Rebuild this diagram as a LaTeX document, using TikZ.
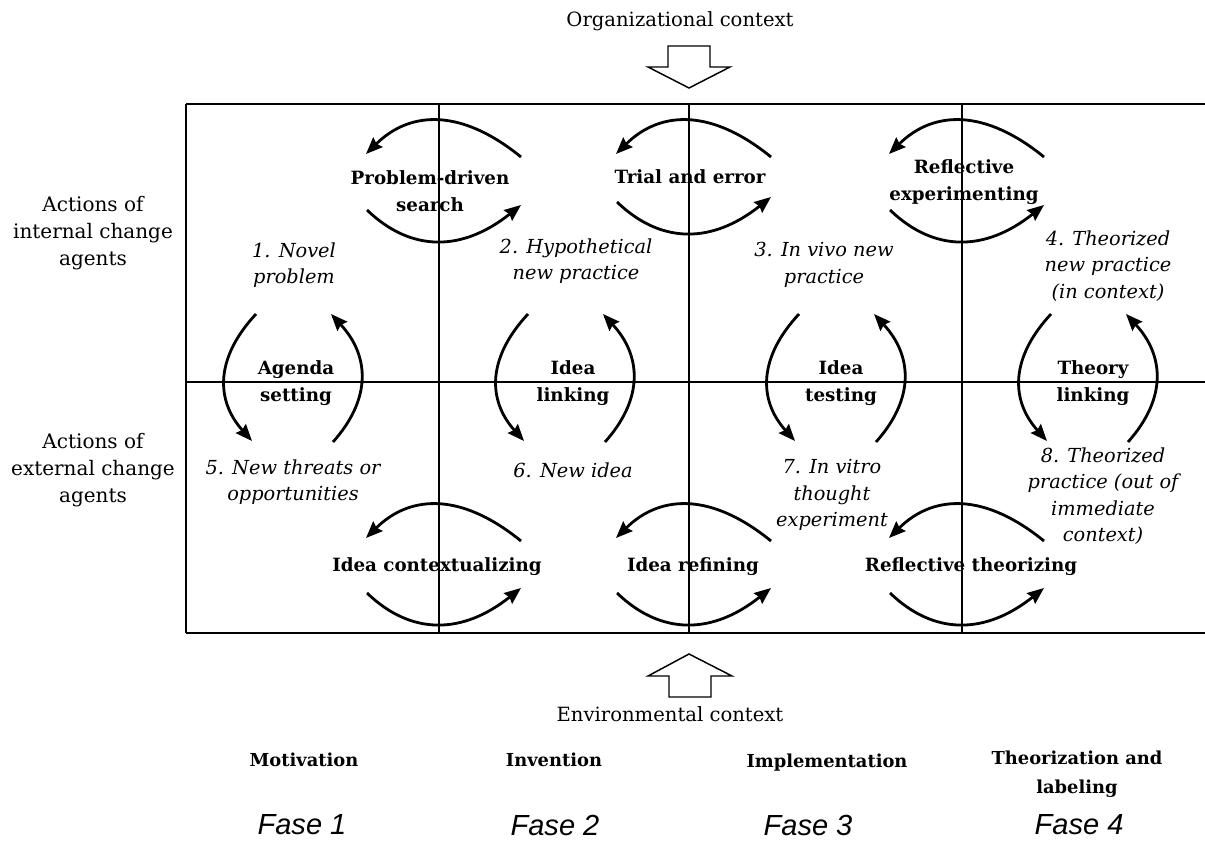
\documentclass[tikz,border=0pt]{standalone}
\usepackage{fontspec}
\setmainfont{DejaVu Serif}
\newfontfamily\fasefont{Liberation Sans}
\usetikzlibrary{arrows.meta,calc}

% one curved arrow through three points: start, extreme point, tip
\newcommand{\loopcurve}[3]{%
  \coordinate (ctl) at ($2*(#2)-0.5*(#1)-0.5*(#3)$);
  \draw[cyclearrow] (#1) .. controls ($(#1)!2/3!(ctl)$) and ($(#3)!2/3!(ctl)$) .. (#3);}

% pair of arcs above and below a horizontal label: name, centre x, top y, bottom y
\newcommand{\hloop}[4]{%
  \coordinate (#1-ua) at (#2+82,#3+36);
  \coordinate (#1-um) at (#2,#3);
  \coordinate (#1-ub) at (#2-73,#3+33);
  \coordinate (#1-la) at (#2-72,#4-31);
  \coordinate (#1-lm) at (#2,#4);
  \coordinate (#1-lb) at (#2+82,#4-36);
  \loopcurve{#1-ua}{#1-um}{#1-ub}
  \loopcurve{#1-la}{#1-lm}{#1-lb}}

% pair of arcs left and right of a label: name, centre x
\newcommand{\vloop}[2]{%
  \coordinate (#1-la) at (#2-37,314);
  \coordinate (#1-lm) at (#2-68,378);
  \coordinate (#1-lb) at (#2-41,441);
  \coordinate (#1-ra) at (#2+40,442);
  \coordinate (#1-rm) at (#2+68,378);
  \coordinate (#1-rb) at (#2+38,314);
  \loopcurve{#1-la}{#1-lm}{#1-lb}
  \loopcurve{#1-ra}{#1-rm}{#1-rb}}

\begin{document}
\begin{tikzpicture}[x=0.75pt,y=-0.75pt,
  gridline/.style={line width=1.2pt,black},
  cyclearrow/.style={line width=2.1pt,-{Stealth[length=12.5pt,width=10pt,inset=1.5pt]}},
  blockarrow/.style={line width=1.1pt,fill=white,line join=miter},
  ctx/.style={font=\fontsize{14.7}{18}\selectfont,inner sep=0pt},
  side/.style={font=\fontsize{15}{20.25}\selectfont,align=center,inner sep=0pt},
  proc/.style={font=\bfseries\fontsize{13.7}{20}\selectfont,align=center,inner sep=0pt},
  state/.style={font=\itshape\fontsize{14.5}{19.75}\selectfont,align=center,inner sep=0pt},
  phase/.style={font=\bfseries\fontsize{13.4}{21.75}\selectfont,align=center,inner sep=0pt},
  fase/.style={font=\fasefont\itshape\fontsize{21.8}{24}\selectfont,inner sep=0pt}]

\useasboundingbox (0,0) rectangle (1205,841);

% frame of the two rows and four phases
\draw[gridline] (186,104) -- (1206,104);
\draw[gridline] (186,382) -- (1206,382);
\draw[gridline] (186,633) -- (1206,633);
\draw[gridline] (186,104) -- (186,633);
\draw[gridline] (439,104) -- (439,633);
\draw[gridline] (689,104) -- (689,633);
\draw[gridline] (962,104) -- (962,633);

% context arrows
\node[ctx] (org) at (680,21) {Organizational context};
\draw[blockarrow] (668,46) -- (710,46) -- (710,67) -- (730,67) -- (689,88)
  -- (648,67) -- (668,67) -- cycle;
\node[ctx] (env) at (670,714) {Environmental context};
\draw[blockarrow] (669,697) -- (711,697) -- (711,676) -- (732,676) -- (689,654)
  -- (648,676) -- (669,676) -- cycle;

% row headings
\node[side] (internal) at (93,233) {Actions of\\internal change\\agents};
\node[side] (external) at (93,470) {Actions of\\external change\\agents};

% cycles
\hloop{pds}{439}{121}{241}
\hloop{tae}{689}{121}{233}
\hloop{rex}{962}{121}{241}
\hloop{ictx}{439}{505}{624}
\hloop{iref}{689}{505}{624}
\hloop{rth}{962}{505}{624}
\vloop{ags}{293}
\vloop{ilk}{565}
\vloop{its}{836}
\vloop{thl}{1088}

% actions
\node[proc] (pdsL) at (430,191) {Problem-driven\\search};
\node[proc] (taeL) at (690,177) {Trial and error};
\node[proc] (rexL) at (964,182) {Reflective\\experimenting};
\node[proc] (agsL) at (296,383) {Agenda\\setting};
\node[proc] (ilkL) at (573,383) {Idea\\linking};
\node[proc] (itsL) at (841,383) {Idea\\testing};
\node[proc] (thlL) at (1093,383) {Theory\\linking};
\node[proc] (ictxL) at (437,567) {Idea contextualizing};
\node[proc] (irefL) at (693,567) {Idea refining};
\node[proc] (rthL) at (971,567) {Reflective theorizing};

% states
\node[state] (s1) at (294,265) {1. Novel\\problem};
\node[state] (s2) at (576,261) {2. Hypothetical\\new practice};
\node[state] (s3) at (824,265) {3. In vivo new\\practice};
\node[state] (s4) at (1108,266) {4. Theorized\\new practice\\(in context)};
\node[state] (s5) at (293,482) {5. New threats or\\opportunities};
\node[state] (s6) at (573,470) {6. New idea};
\node[state] (s7) at (832,495) {7. In vitro\\thought\\experiment};
\node[state] (s8) at (1103,496) {8. Theorized\\practice (out of\\immediate\\context)};

% phases
\node[phase] (ph1) at (304,760) {Motivation};
\node[phase] (ph2) at (554,760) {Invention};
\node[phase] (ph3) at (827,763) {Implementation};
\node[phase] (ph4) at (1077,774) {Theorization and\\labeling};
\node[fase] (f1) at (302,825) {Fase 1};
\node[fase] (f2) at (555,825) {Fase 2};
\node[fase] (f3) at (808,825) {Fase 3};
\node[fase] (f4) at (1079,825) {Fase 4};
\end{tikzpicture}
\end{document}
